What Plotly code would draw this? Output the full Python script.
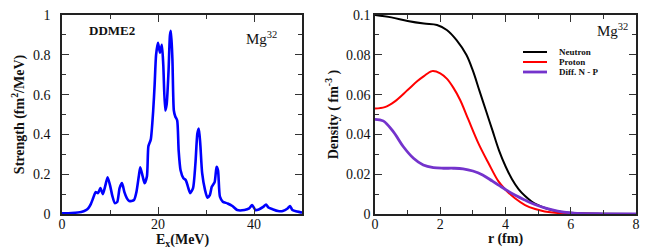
import plotly.graph_objects as go

# ---------------- data: left panel (strength function) ----------------
ex_mev = [0, 2, 4, 5, 5.5, 6, 6.5, 7, 7.5, 8, 8.5, 9, 9.5, 10, 10.5, 11, 11.5, 12, 12.5, 13,
          13.5, 14, 15, 15.5, 16, 16.3, 16.8, 17.2, 17.7, 18, 18.5, 19, 19.3, 19.6, 20, 20.4,
          20.8, 21.1, 21.5, 21.8, 22.2, 22.5, 22.7, 23, 23.3, 23.6, 24, 24.3, 24.7, 25.3, 25.8,
          26.2, 26.7, 27.3, 27.8, 28.2, 28.5, 28.8, 29.2, 29.8, 30.3, 30.8, 31.2, 31.8, 32.2,
          32.5, 32.9, 33.5, 34.5, 35.5, 36.5, 38, 39, 39.6, 40.3, 41, 42, 42.5, 43, 44, 45, 46,
          47, 47.5, 48, 49, 50]
strength = [0.003, 0.005, 0.01, 0.02, 0.03, 0.05, 0.08, 0.11, 0.105, 0.13, 0.10, 0.14, 0.185,
            0.145, 0.09, 0.055, 0.06, 0.13, 0.155, 0.11, 0.08, 0.065, 0.07, 0.11, 0.19, 0.235,
            0.19, 0.155, 0.19, 0.34, 0.375, 0.52, 0.65, 0.80, 0.86, 0.81, 0.85, 0.75, 0.52,
            0.55, 0.72, 0.90, 0.92, 0.78, 0.52, 0.49, 0.47, 0.32, 0.22, 0.18, 0.17, 0.14, 0.105,
            0.13, 0.255, 0.405, 0.43, 0.355, 0.205, 0.12, 0.082, 0.095, 0.137, 0.16, 0.237,
            0.22, 0.087, 0.062, 0.053, 0.04, 0.02, 0.02, 0.028, 0.045, 0.02, 0.023, 0.037,
            0.048, 0.033, 0.023, 0.015, 0.015, 0.028, 0.04, 0.02, 0.012, 0.007]

# ---------------- data: right panel (densities) ----------------
r_neutron = [0, 0.5, 1.0, 1.5, 1.9, 2.2, 2.5, 2.8, 3.0, 3.2, 3.4, 3.6, 3.8, 4.0, 4.2, 4.4,
             4.6, 4.8, 5.0, 5.3, 5.6, 6.0, 6.5, 7.0, 8.0]
neutron = [0.1, 0.0988, 0.097, 0.0957, 0.095, 0.0925, 0.0874, 0.080, 0.072, 0.062, 0.052,
           0.042, 0.032, 0.024, 0.0175, 0.0125, 0.009, 0.0063, 0.0045, 0.0025, 0.0013, 0.0006,
           0.0002, 0.0001, 0.0]

r_proton = [0, 0.3, 0.6, 1.0, 1.3, 1.5, 1.75, 2.0, 2.2, 2.4, 2.61, 2.86, 3.17, 3.48, 3.78,
            4.0, 4.29, 4.6, 4.91, 5.2, 5.6, 6.0, 7.0, 8.0]
proton = [0.053, 0.0537, 0.0565, 0.0623, 0.0668, 0.0693, 0.0718, 0.0707, 0.068, 0.0635,
          0.0573, 0.0475, 0.0355, 0.0255, 0.0165, 0.0122, 0.0079, 0.0045, 0.0025, 0.0013,
          0.0005, 0.0002, 0.0, 0.0]

r_diff = [0, 0.25, 0.56, 0.87, 1.18, 1.48, 1.79, 2.1, 2.4, 2.7, 3.0, 3.3, 3.6, 3.8, 4.0,
          4.3, 4.6, 4.9, 5.2, 5.6, 6.0, 6.5, 7.0, 8.0]
diff_np = [0.0476, 0.0468, 0.0414, 0.0338, 0.028, 0.0246, 0.0233, 0.023, 0.023, 0.0227,
           0.0216, 0.0196, 0.0165, 0.0144, 0.0123, 0.0094, 0.007, 0.0048, 0.0031, 0.0015,
           0.0006, 0.0002, 0.0001, 0.0]

legend_names = ["Neutron", "Proton", "Diff. N - P"]
legend_colors = ["#000000", "#ff0000", "#7433cc"]

SERIF = "Liberation Serif"
OFF = 8                      # page body margin offset
W, H = 654 - OFF, 251 - OFF  # figure size
TXT = "#111111"


def px(x):
    return (x - OFF) / W


def py(y):
    return 1 - (y - OFF) / H


fig = go.Figure()
fig.add_trace(go.Scatter(x=ex_mev, y=strength, mode="lines",
                         line=dict(color="#0000ff", width=2.6, shape="spline", smoothing=0.6),
                         xaxis="x", yaxis="y", showlegend=False))
fig.add_trace(go.Scatter(x=r_neutron, y=neutron, mode="lines", name=legend_names[0],
                         line=dict(color=legend_colors[0], width=2, shape="spline", smoothing=1),
                         xaxis="x2", yaxis="y2", showlegend=False))
fig.add_trace(go.Scatter(x=r_proton, y=proton, mode="lines", name=legend_names[1],
                         line=dict(color=legend_colors[1], width=2, shape="spline", smoothing=1),
                         xaxis="x2", yaxis="y2", showlegend=False))
fig.add_trace(go.Scatter(x=r_diff, y=diff_np, mode="lines", name=legend_names[2],
                         line=dict(color=legend_colors[2], width=2.8, shape="spline", smoothing=1),
                         xaxis="x2", yaxis="y2", showlegend=False))

ydom = [py(214), py(15)]
common = dict(showline=True, linecolor="#222222", linewidth=1.5, mirror="ticks",
              ticks="inside", ticklen=7, tickwidth=1.2, tickcolor="#333333",
              showgrid=False, zeroline=False, automargin=False, ticklabeloverflow="allow",
              tickfont=dict(family=SERIF, size=14, color=TXT))
minor_style = dict(ticks="inside", ticklen=4, tickcolor="#333333", tickwidth=1.2)

fig.update_layout(
    width=W, height=H, margin=dict(l=0, r=0, t=0, b=0, autoexpand=False),
    paper_bgcolor="white", plot_bgcolor="white",
    xaxis=dict(domain=[px(62), px(302)], range=[0, 50], dtick=20, tick0=0,
               minor=dict(dtick=10, **minor_style), anchor="y", ticklabelstandoff=-4, **common),
    yaxis=dict(domain=ydom, range=[0, 1], dtick=0.2, tick0=0,
               minor=dict(dtick=0.1, **minor_style),
               title=dict(text="<b>Strength (fm<sup>2</sup>/MeV)</b>",
                          font=dict(family=SERIF, size=14, color=TXT), standoff=5),
               ticklabelstandoff=7, anchor="x", **common),
    xaxis2=dict(domain=[px(375), px(636)], range=[0, 8], dtick=2, tick0=0,
                minor=dict(dtick=1, **minor_style), anchor="y2", ticklabelstandoff=-4, **common),
    yaxis2=dict(domain=ydom, range=[0, 0.1], dtick=0.02, tick0=0,
                minor=dict(dtick=0.01, **minor_style),
                title=dict(text="<b>Density ( fm<sup>-3</sup> )</b>",
                           font=dict(family=SERIF, size=14, color=TXT), standoff=4),
                anchor="x2", **common),
)

annotations = [
    dict(text="<b>E<sub>x</sub>(MeV)</b>", x=px(182), y=py(240), xanchor="center", yanchor="middle",
         font=dict(family=SERIF, size=14, color=TXT)),
    dict(text="<b>r (fm)</b>", x=px(505), y=py(239), xanchor="center", yanchor="middle",
         font=dict(family=SERIF, size=14, color=TXT)),
    dict(text="<b>DDME2</b>", x=px(87), y=py(30), xanchor="left", yanchor="middle",
         font=dict(family=SERIF, size=13, color=TXT)),
    dict(text="Mg<sup>32</sup>", x=px(279), y=py(38), xanchor="right", yanchor="middle",
         font=dict(family=SERIF, size=15, color=TXT)),
    dict(text="Mg<sup>32</sup>", x=px(630), y=py(30), xanchor="right", yanchor="middle",
         font=dict(family=SERIF, size=15, color=TXT)),
]
shapes = []
legend_y = [52, 62, 72]
for name, col, ly in zip(legend_names, legend_colors, legend_y):
    shapes.append(dict(type="line", xref="paper", yref="paper",
                       x0=px(523), x1=px(547), y0=py(ly), y1=py(ly),
                       line=dict(color=col, width=2.8 if col == legend_colors[2] else 2)))
    annotations.append(dict(text="<b>" + name + "</b>", x=px(557), y=py(ly),
                            xanchor="left", yanchor="middle",
                            font=dict(family=SERIF, size=9, color=TXT)))
for a in annotations:
    a.update(xref="paper", yref="paper", showarrow=False)
fig.update_layout(annotations=annotations, shapes=shapes)

fig.write_html("out.html")
